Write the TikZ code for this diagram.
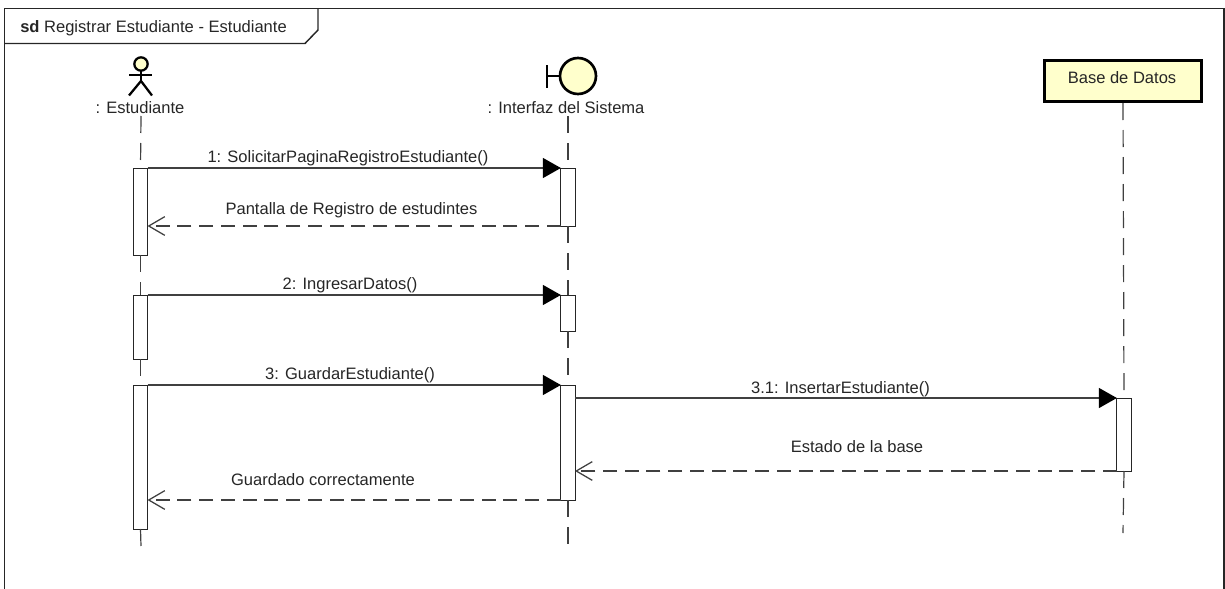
\documentclass[tikz,border=0pt]{standalone}
\usepackage{fontspec}
\setmainfont{Liberation Sans}
\usetikzlibrary{arrows.meta}

\tikzset{
	lifeline/.style={draw=black!75, line width=0.9pt, dash pattern=on 12.75pt off 7.5pt},
	activation/.style={draw=black!85, fill=white, line width=0.75pt, minimum width=10.7pt, inner sep=0pt, outer sep=0pt},
	call/.style={draw=black!75, line width=1pt, -{Triangle[length=13.5pt,width=15pt,black]}},
	reply/.style={draw=black!75, line width=0.95pt, dash pattern=on 10.5pt off 5.8pt, -{Straight Barb[length=12pt,width=14pt,black!75,line width=0.95pt]}},
	caption/.style={inner sep=0pt, text=black!85, font=\fontsize{12.4}{14}\selectfont},
	symbol/.style={draw=black, fill=noteyellow, line width=2pt, inner sep=0pt, outer sep=0pt}
}

\begin{document}
\begin{tikzpicture}[x=0.75pt, y=-0.75pt]
	% Define colors
	\definecolor{noteyellow}{HTML}{FFFFCC}

	\useasboundingbox (0,0) rectangle (1225,589);

	% Frame and its tab
	\draw[black!85, line width=1.1pt] (4.5,589) -- (4.5,8.5) -- (1224,8.5) -- (1224,589);
	\draw[black!85, line width=1.1pt] (4.5,43.5) -- (305,43.5) -- (318,30) -- (318,8.5);
	\node[caption, anchor=west] (frametitle) at (20,28) {\textbf{sd} Registrar Estudiante - Estudiante};

	% Actor
	\node[symbol, circle, minimum size=10pt, line width=1.7pt] (head) at (141,64) {};
	\coordinate (hip) at (141,81);
	\coordinate (armleft) at (129,75);
	\coordinate (armright) at (152,75);
	\coordinate (footleft) at (129,95.5);
	\coordinate (footright) at (152,95.5);
	\draw[black, line width=1.7pt] (head.south) -- (hip);
	\draw[black, line width=1.7pt] (armleft) -- (armright);
	\draw[black, line width=1.7pt] (footleft) -- (hip) -- (footright);
	\node[caption] (student) at (140,108) {: Estudiante};

	% Boundary
	\node[symbol, circle, minimum size=27pt] (screen) at (578,76) {};
	\coordinate (screenbar) at (547,76);
	\coordinate (screenbartop) at (547,65);
	\coordinate (screenbarend) at (547,88);
	\draw[black, line width=2pt] (screenbartop) -- (screenbarend);
	\draw[black, line width=2pt] (screenbar) -- (screen.west);
	\node[caption] (system) at (566,108) {: Interfaz del Sistema};

	% Database
	\node[symbol, line width=2.3pt, minimum width=118pt, minimum height=30.5pt] (database) at (1123,81) {};
	\node[caption] (dbname) at (1122,78) {Base de Datos};

	% Activation bars
	\node[activation, minimum height=65.25pt] (sa) at (140.5,211.5) {};
	\node[activation, minimum height=48pt] (sb) at (140.5,327) {};
	\node[activation, minimum height=108pt] (sc) at (140.5,457) {};
	\node[activation, minimum height=43.5pt] (ia) at (568,197) {};
	\node[activation, minimum height=27pt] (ib) at (568,313) {};
	\node[activation, minimum height=86.25pt] (ic) at (568,442.5) {};
	\node[activation, minimum height=54.75pt] (da) at (1124,434.5) {};

	% Lifelines
	\coordinate (stop) at (141,116);
	\coordinate (itop) at (568,116);
	\coordinate (dtop) at (1123,103);
	\coordinate (send) at (141,546);
	\coordinate (iend) at (568,547);
	\coordinate (dend) at (1123,533);
	\draw[lifeline] (stop) -- (sa.north);
	\draw[lifeline] (sa.south) -- (sb.north);
	\draw[lifeline] (sb.south) -- (sc.north);
	\draw[lifeline] (sc.south) -- (send);
	\draw[lifeline] (itop) -- (ia.north);
	\draw[lifeline] (ia.south) -- (ib.north);
	\draw[lifeline] (ib.south) -- (ic.north);
	\draw[lifeline] (ic.south) -- (iend);
	\draw[lifeline] (dtop) -- (da.north);
	\draw[lifeline] (da.south) -- (dend);

	% Messages
	\coordinate (dbcallstart) at (575,398);
	\coordinate (dbreplyend) at (575,471);
	\coordinate (savereplyend) at (147.5,500);
	\coordinate (pagereplyend) at (147.5,226);
	\draw[call] (sa.north east) -- (ia.north west);
	\draw[reply] (ia.south west) -- (pagereplyend);
	\draw[call] (sb.north east) -- (ib.north west);
	\draw[call] (sc.north east) -- (ic.north west);
	\draw[call] (dbcallstart) -- (da.north west);
	\draw[reply] (da.south west) -- (dbreplyend);
	\draw[reply] (ic.south west) -- (savereplyend);

	% Labels of the messages
	\node[caption] (msga) at (348,158) {1: SolicitarPaginaRegistroEstudiante()};
	\node[caption] (msgb) at (351.5,210) {Pantalla de Registro de estudintes};
	\node[caption] (msgc) at (350,285) {2: IngresarDatos()};
	\node[caption] (msgd) at (350,375) {3: GuardarEstudiante()};
	\node[caption] (msge) at (840.5,389) {3.1: InsertarEstudiante()};
	\node[caption] (msgf) at (857,447) {Estado de la base};
	\node[caption] (msgg) at (323,480) {Guardado correctamente};
\end{tikzpicture}
\end{document}
